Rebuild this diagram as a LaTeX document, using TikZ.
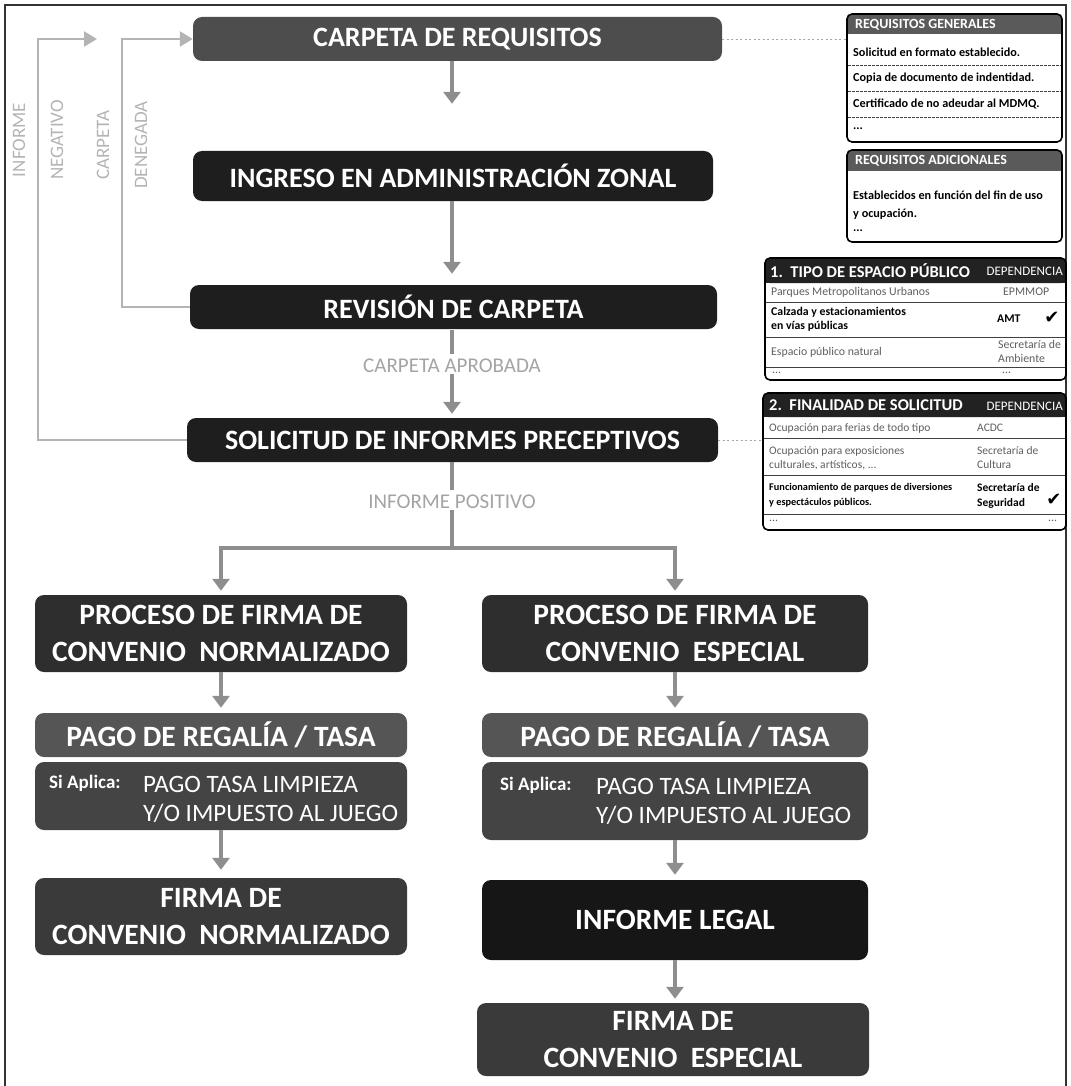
\documentclass[tikz,border=0pt]{standalone}
\usepackage{fontspec}
\setmainfont{Carlito}
\newfontfamily\symfont{DejaVu Sans}
\usetikzlibrary{arrows.meta,calc}
\definecolor{cA}{HTML}{4D4D4D}
\definecolor{cB}{HTML}{1E1E1E}
\definecolor{cC}{HTML}{2E2E2E}
\definecolor{cD}{HTML}{555555}
\definecolor{cE}{HTML}{444444}
\definecolor{cF}{HTML}{3A3A3A}
\definecolor{cG}{HTML}{161616}
\definecolor{arrc}{HTML}{8E8E8E}
\definecolor{loopc}{HTML}{B4B4B4}
\definecolor{lblc}{HTML}{A4A4A4}
\definecolor{hdrA}{HTML}{5A5A5A}
\definecolor{hdrB}{HTML}{222222}
\definecolor{rowg}{HTML}{5E5E5E}
\begin{document}
\begin{tikzpicture}[x=1pt,y=-1pt,
  mainbox/.style={rounded corners=9pt, text=white, inner sep=0pt, align=center,
    font=\bfseries\fontsize{28}{34}\selectfont},
  lowbox/.style={mainbox, font=\bfseries\fontsize{29.5}{37}\selectfont},
  arr/.style={draw=arrc, line width=4pt, -{Triangle[width=17pt,length=12pt]}},
  plainl/.style={draw=arrc, line width=4pt},
  loopl/.style={draw=loopc, line width=2.5pt},
  looparr/.style={draw=loopc, line width=2.5pt, -{Triangle[width=15pt,length=13pt]}},
  glabel/.style={text=lblc, inner sep=1pt, font=\fontsize{21}{24}\selectfont},
  vlabel/.style={text=loopc, inner sep=0pt, align=center, rotate=90, font=\fontsize{19}{38}\selectfont},
  dotl/.style={draw=gray!70, line width=0.8pt, dash pattern=on 2pt off 2.5pt},
  tbl/.style={draw=black, line width=1.6pt, rounded corners=5pt, inner sep=0pt},
  sepl/.style={draw=black!75, line width=0.9pt},
  hdtxt/.style={anchor=west, inner sep=0pt, text=white, font=\bfseries\fontsize{14}{16}\selectfont},
  thd/.style={hdtxt, font=\bfseries\fontsize{16.5}{18}\selectfont},
  dephd/.style={anchor=east, inner sep=0pt, text=white, font=\fontsize{13}{14}\selectfont},
  rt/.style={anchor=west, inner sep=0pt, text=black, font=\bfseries\fontsize{12.2}{14}\selectfont},
  gt/.style={anchor=west, inner sep=0pt, text=rowg, font=\fontsize{11.8}{13}\selectfont},
  bt/.style={anchor=west, inner sep=0pt, text=black, font=\bfseries\fontsize{11.8}{13}\selectfont},
  ck/.style={inner sep=0pt, font=\symfont\fontsize{18}{20}\selectfont},
  siap/.style={anchor=west, inner sep=0pt, text=white, font=\bfseries\fontsize{19}{21}\selectfont},
  sitx/.style={anchor=west, inner sep=0pt, text=white, font=\fontsize{25}{28}\selectfont}
]
\useasboundingbox (0,0) rectangle (1070,1086);
% frame
\draw[line width=1.3pt, black!80] (5,1095) -- (5,5) -- (1066,5) -- (1066,1095);

% ---------- main flow ----------
\node[mainbox, fill=cA, minimum width=529, minimum height=44] (b1) at (457.5,39) {CARPETA DE REQUISITOS};
\node[mainbox, fill=cB, minimum width=520, minimum height=50] (b2) at (453,176) {INGRESO EN ADMINISTRACIÓN ZONAL};
\node[mainbox, fill=cB, minimum width=527, minimum height=44] (b3) at (453.5,307) {REVISIÓN DE CARPETA};
\node[glabel] (apro) at (452,366) {CARPETA APROBADA};
\node[mainbox, fill=cB, minimum width=531, minimum height=44] (b4) at (452.5,440) {SOLICITUD DE INFORMES PRECEPTIVOS};
\node[glabel] (pos) at (452,502) {INFORME POSITIVO};

\coordinate (ax) at (452,0);
\draw[arr, shorten >=47pt] (b1.south -| ax) -- (b2.north -| ax);
\draw[arr, shorten >=11pt] (b2.south -| ax) -- (b3.north -| ax);
\draw[plainl, shorten <=1pt, shorten >=4pt] (b3.south -| ax) -- (apro.north);
\draw[arr, shorten >=4pt] (apro.south) -- (b4.north -| ax);
\draw[plainl, shorten >=4pt] (b4.south -| ax) -- (pos.north);

% feedback loops
\coordinate (dn) at (122,39);
\draw[looparr] (b3.west) -| (dn) -- (b1.west);
\coordinate (ng) at (38,39);
\coordinate (ngend) at (97,39);
\draw[looparr] (b4.west) -| (ng) -- (ngend);
\node[vlabel] (lden) at (122,145) {CARPETA\\DENEGADA};
\node[vlabel] (lneg) at (38,140) {INFORME\\NEGATIVO};

% ---------- lower part ----------
\node[lowbox, fill=cC, minimum width=372, minimum height=77] (b5) at (221,633.5) {PROCESO DE FIRMA DE\\CONVENIO\ \ NORMALIZADO};
\node[lowbox, fill=cC, minimum width=386, minimum height=77] (b6) at (675,633.5) {PROCESO DE FIRMA DE\\CONVENIO\ \ ESPECIAL};

\coordinate (br) at (452,548);
\draw[plainl] (pos.south) -- (br);
\draw[arr, shorten >=4pt] (br) -| (b5.north);
\draw[arr, shorten >=4pt] (br) -| (b6.north);

\node[lowbox, fill=cD, minimum width=372, minimum height=44] (b7) at (221,735) {PAGO DE REGALÍA / TASA};
\node[lowbox, fill=cE, minimum width=372, minimum height=68] (b8) at (221,796) {};
\node[siap] (s1) at (49,783) {Si Aplica:};
\node[sitx] (s2) at (143,784) {PAGO TASA LIMPIEZA};
\node[sitx] (s3) at (143,813) {Y/O IMPUESTO AL JUEGO};
\node[lowbox, fill=cF, minimum width=372, minimum height=77] (b9) at (221,916.5) {FIRMA DE\\CONVENIO\ \ NORMALIZADO};

\node[lowbox, fill=cD, minimum width=386, minimum height=44] (b10) at (675,735) {PAGO DE REGALÍA / TASA};
\node[lowbox, fill=cE, minimum width=386, minimum height=78] (b11) at (675,801) {};
\node[siap] (s4) at (500,785) {Si Aplica:};
\node[sitx] (s5) at (596,786) {PAGO TASA LIMPIEZA};
\node[sitx] (s6) at (596,815) {Y/O IMPUESTO AL JUEGO};
\node[lowbox, fill=cG, minimum width=386, minimum height=80] (b12) at (675,920) {INFORME LEGAL};
\node[lowbox, fill=cF, minimum width=392, minimum height=73] (b13) at (673,1039.5) {FIRMA DE\\CONVENIO\ \ ESPECIAL};

\draw[arr, shorten >=5pt] (b5.south) -- (b7.north);
\draw[arr, shorten >=8pt] (b8.south) -- (b9.north);
\draw[arr, shorten >=5pt] (b6.south) -- (b10.north);
\draw[arr, shorten >=5pt] (b11.south) -- (b12.north);
\draw[arr, shorten >=4pt] (b12.south) -- (b13.north -| b12.south);

% ---------- right side tables ----------
% Requisitos generales
\fill[hdrA, rounded corners=5pt] (847,14) rectangle (1062,34);
\fill[hdrA] (847,24) rectangle (1062,34);
\node[tbl, minimum width=215, minimum height=128] (rg) at (954.5,78) {};
\node[hdtxt] (rgh) at (855,24.5) {REQUISITOS GENERALES};
\node[rt] (rg1) at (853,52) {Solicitud en formato establecido.};
\node[rt] (rg2) at (853,78) {Copia de documento de indentidad.};
\node[rt] (rg3) at (853,104) {Certificado de no adeudar al MDMQ.};
\node[rt] (rg4) at (853,129) {...};
\draw[sepl, dash pattern=on 3pt off 1pt] (848,65) -- (1061,65);
\draw[sepl, dash pattern=on 3pt off 1pt] (848,91) -- (1061,91);
\draw[sepl, dash pattern=on 3pt off 1pt] (848,117) -- (1061,117);
\draw[dotl] (b1.east) -- (rg.west |- b1.east);

% Requisitos adicionales
\fill[hdrA, rounded corners=5pt] (847,150) rectangle (1062,171);
\fill[hdrA] (847,160) rectangle (1062,171);
\node[tbl, minimum width=215, minimum height=92] (ra) at (954.5,196) {};
\node[hdtxt] (rah) at (855,161) {REQUISITOS ADICIONALES};
\node[rt] (ra1) at (853,195) {Establecidos en función del fin de uso};
\node[rt] (ra2) at (853,214) {y ocupación.};
\node[rt] (ra3) at (853,231) {...};

% Table 1
\fill[hdrB, rounded corners=5pt] (765,258) rectangle (1066,283);
\fill[hdrB] (765,270) rectangle (1066,283);
\node[tbl, minimum width=301, minimum height=122] (t1) at (915.5,319) {};
\node[thd] (t1h) at (770,270.5) {1.\ \ TIPO DE ESPACIO PÚBLICO};
\node[dephd] (t1d) at (1063,271) {DEPENDENCIA};
\node[gt] (t1a) at (771,292) {Parques Metropolitanos Urbanos};
\node[gt] (t1ad) at (1003,292) {EPMMOP};
\draw[sepl] (766,302) -- (1065,302);
\node[bt] (t1b1) at (771,312) {Calzada y estacionamientos};
\node[bt] (t1b2) at (771,326) {en vías públicas};
\node[bt] (t1bd) at (997,319) {AMT};
\node[ck] (t1ck) at (1052,318) {✔};
\draw[sepl] (766,337) -- (1065,337);
\node[gt] (t1c) at (771,352) {Espacio público natural};
\node[gt] (t1cd1) at (998,344) {Secretaría de};
\node[gt] (t1cd2) at (998,358) {Ambiente};
\draw[sepl] (766,367) -- (1065,367);
\node[gt] (t1e) at (772,373) {...};
\node[gt] (t1ed) at (1002,373) {...};

% Table 2
\fill[hdrB, rounded corners=5pt] (763,393) rectangle (1066,417);
\fill[hdrB] (763,405) rectangle (1066,417);
\node[tbl, minimum width=303, minimum height=137] (t2) at (914.5,461.5) {};
\node[thd] (t2h) at (769,405.5) {2.\ \ FINALIDAD DE SOLICITUD};
\node[dephd] (t2d) at (1063,406) {DEPENDENCIA};
\node[gt, font=\fontsize{11.5}{13}\selectfont] (t2a) at (769,428) {Ocupación para ferias de todo tipo};
\node[gt, font=\fontsize{11.5}{13}\selectfont] (t2ad) at (977,428) {ACDC};
\draw[sepl] (764,438) -- (1065,438);
\node[gt, font=\fontsize{11.5}{13}\selectfont] (t2b1) at (769,451) {Ocupación para exposiciones};
\node[gt, font=\fontsize{11.5}{13}\selectfont] (t2b2) at (769,465) {culturales, artísticos, ...};
\node[gt, font=\fontsize{11.5}{13}\selectfont] (t2bd1) at (977,451) {Secretaría de};
\node[gt, font=\fontsize{11.5}{13}\selectfont] (t2bd2) at (977,465) {Cultura};
\draw[sepl] (764,475) -- (1065,475);
\node[bt, font=\bfseries\fontsize{10.3}{12}\selectfont] (t2c1) at (769,488) {Funcionamiento de parques de diversiones};
\node[bt, font=\bfseries\fontsize{10.3}{12}\selectfont] (t2c2) at (769,503) {y espectáculos públicos.};
\node[bt, font=\bfseries\fontsize{11.5}{13}\selectfont] (t2cd1) at (977,488) {Secretaría de};
\node[bt, font=\bfseries\fontsize{11.5}{13}\selectfont] (t2cd2) at (977,503) {Seguridad};
\node[ck] (t2ck) at (1054,500) {✔};
\draw[sepl] (764,514) -- (1065,514);
\node[gt] (t2e) at (769,521) {...};
\node[gt] (t2ed) at (1048,521) {...};
\draw[dotl] (b4.east) -- (t2.west |- b4.east);
\end{tikzpicture}
\end{document}
